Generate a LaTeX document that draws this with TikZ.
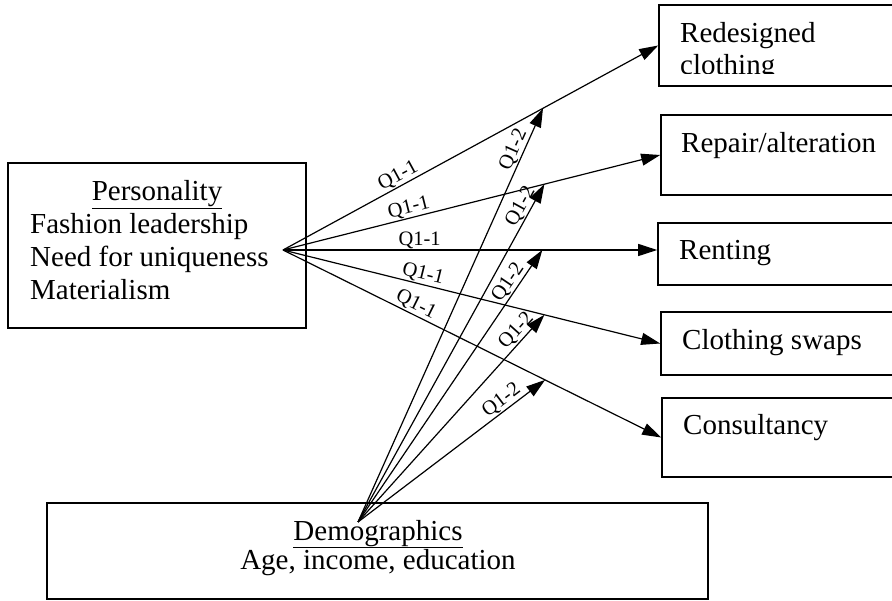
\documentclass[tikz,border=0pt]{standalone}
\usepackage{fontspec}
\setmainfont{Liberation Serif}
\usetikzlibrary{arrows.meta,calc}
\begin{document}
\begin{tikzpicture}[x=1pt,y=-1pt,
  box/.style={draw,line width=1.6pt,inner sep=0pt},
  txt/.style={anchor=base west,inner sep=0pt,font=\fontsize{29}{33}\selectfont},
  ctxt/.style={anchor=base,inner sep=0pt,font=\fontsize{29}{33}\selectfont},
  conn/.style={line width=1.2pt,-{Triangle[length=19pt,width=12pt]}},
  lab/.style={font=\fontsize{20.5}{22}\selectfont,sloped,above,inner sep=1pt}]
\useasboundingbox (0,0) rectangle (892,601);

% boxes
\node[box,minimum width=298pt,minimum height=165pt] (pers) at (157,245.5) {};
\node[box,minimum width=246pt,minimum height=81pt] (r1) at (782,45.5) {};
\node[box,minimum width=244pt,minimum height=80pt] (r2) at (783,155) {};
\node[box,minimum width=247pt,minimum height=62pt] (r3) at (781.5,254) {};
\node[box,minimum width=244pt,minimum height=63pt] (r4) at (783,343.5) {};
\node[box,minimum width=243pt,minimum height=79pt] (r5) at (783.5,437.5) {};
\node[box,minimum width=661pt,minimum height=96pt] (demo) at (377.5,551) {};

% texts
\node[ctxt] (t1) at (157,201) {\underline{Personality}};
\node[txt] (t2) at (30,234) {Fashion leadership};
\node[txt] (t3) at (30,267) {Need for uniqueness};
\node[txt] (t4) at (30,300) {Materialism};
\begin{scope}
\clip (659,5) rectangle (892,74);
\node[txt] (t5) at (680,43) {Redesigned};
\node[txt] (t6) at (680,75) {clothing};
\end{scope}
\node[txt] (t7) at (681,153) {Repair/alteration};
\node[txt] (t8) at (679,260) {Renting};
\node[txt] (t9) at (682,350) {Clothing swaps};
\node[txt] (t10) at (683,435) {Consultancy};
\node[ctxt] (t11) at (378,540) {\underline{Demographics}};
\node[ctxt] (t12) at (378,569) {Age, income, education};

% sources
\coordinate (src) at (283,250);
\coordinate (dsrc) at (358,522);
\coordinate (e3) at (src -| r3.west);

% Q1-1 arrows
\draw[conn] (src) -- node[lab,pos=0.32] {Q1-1} (r1.west);
\draw[conn] (src) -- node[lab,pos=0.34] {Q1-1} (r2.west);
\draw[conn] (src) -- node[lab,pos=0.365] {Q1-1} (e3);
\draw[conn] (src) -- node[lab,pos=0.365] {Q1-1} (r4.west);
\draw[conn] (src) -- node[lab,pos=0.34] {Q1-1} (r5.west);

% targets on the Q1-1 lines
\coordinate (m1) at ($(src)!0.693!(r1.west)$);
\coordinate (m2) at ($(src)!0.693!(r2.west)$);
\coordinate (m3) at ($(src)!0.693!(e3)$);
\coordinate (m4) at ($(src)!0.693!(r4.west)$);
\coordinate (m5) at ($(src)!0.693!(r5.west)$);

% Q1-2 arrows
\draw[conn] (dsrc) -- node[lab,pos=0.89] {Q1-2} (m1);
\draw[conn] (dsrc) -- node[lab,pos=0.92] {Q1-2} (m2);
\draw[conn] (dsrc) -- node[lab,pos=0.86] {Q1-2} (m3);
\draw[conn] (dsrc) -- node[lab,pos=0.89] {Q1-2} (m4);
\draw[conn] (dsrc) -- node[lab,pos=0.80] {Q1-2} (m5);
\end{tikzpicture}
\end{document}
